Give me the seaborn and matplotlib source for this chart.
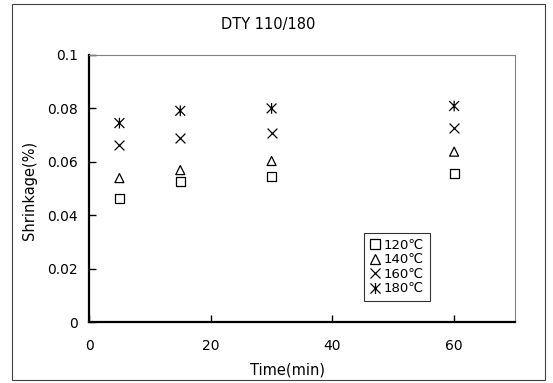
"""
Shrinkage vs time for DTY 110/180 at four temperatures.
"""

import matplotlib
matplotlib.use("Agg")
import matplotlib.pyplot as plt
from matplotlib.path import Path
from matplotlib.lines import Line2D
from matplotlib.patches import Rectangle
import seaborn as sns
import pandas as pd

TIME = [5, 15, 30, 60]
SHRINK_120 = [0.0464, 0.0528, 0.0544, 0.0557]
SHRINK_140 = [0.0539, 0.0569, 0.0603, 0.0638]
SHRINK_160 = [0.0663, 0.0688, 0.0709, 0.0725]
SHRINK_180 = [0.0745, 0.0791, 0.0800, 0.0809]
LABELS = ["120\u2103", "140\u2103", "160\u2103", "180\u2103"]

STAR = Path(
    [(-1, -1), (1, 1), (-1, 1), (1, -1), (0, -1.1), (0, 1.1)],
    [Path.MOVETO, Path.LINETO, Path.MOVETO, Path.LINETO, Path.MOVETO, Path.LINETO],
)
MARKERS = ["s", "^", "x", STAR]
SIZES = [42, 42, 50, 60]


def main():
    sns.set_style("white")
    plt.rcParams["font.family"] = ["DejaVu Sans"]
    plt.rcParams["text.color"] = "black"

    fig = plt.figure(figsize=(5.53, 3.83), dpi=100)
    ax = fig.add_axes([89 / 553, 61 / 383, 426 / 553, 267 / 383])

    series = [SHRINK_120, SHRINK_140, SHRINK_160, SHRINK_180]
    handles = []
    for vals, lab, mk, sz in zip(series, LABELS, MARKERS, SIZES):
        df = pd.DataFrame({"t": TIME, "v": vals})
        if mk == "x":
            sns.scatterplot(data=df, x="t", y="v", ax=ax, marker=mk, s=sz,
                            color="black", linewidths=0.9)
        else:
            sns.scatterplot(data=df, x="t", y="v", ax=ax, marker=mk, s=sz,
                            facecolors="none", edgecolors="black", linewidths=0.9)
        handles.append(Line2D([], [], linestyle="none", marker=mk,
                              markersize=8 if mk is STAR else 7.5,
                              markerfacecolor="none", markeredgecolor="black",
                              markeredgewidth=0.9, label=lab))

    ax.set_xlim(0, 70)
    ax.set_ylim(0, 0.1)
    ax.set_xticks([0, 20, 40, 60])
    ax.set_yticks([0, 0.02, 0.04, 0.06, 0.08, 0.1])
    ax.set_yticklabels(["0", "0.02", "0.04", "0.06", "0.08", "0.1"])
    ax.tick_params(axis="both", direction="in", length=5, width=1, labelsize=10,
                   colors="black", left=True, bottom=True)
    ax.tick_params(axis="x", pad=12)
    ax.tick_params(axis="y", pad=8)
    ax.set_xlabel("")
    ax.set_ylabel("")

    for side in ("left", "bottom"):
        ax.spines[side].set_color("black")
        ax.spines[side].set_linewidth(1.6)
    for side in ("top", "right"):
        ax.spines[side].set_color("#808080")
        ax.spines[side].set_linewidth(0.8)

    leg = ax.legend(handles=handles, loc="lower left", bbox_to_anchor=(0.646, 0.08),
                    borderaxespad=0, fontsize=9.5, handlelength=0.8,
                    handletextpad=0.3, labelspacing=0.12, borderpad=0.4,
                    frameon=True, fancybox=False)
    leg.get_frame().set_edgecolor("black")
    leg.get_frame().set_linewidth(0.8)
    for t in leg.get_texts():
        t.set_color("black")

    fig.text(268 / 553, 1 - 25 / 383, "DTY 110/180", ha="center", va="center",
             fontsize=10.5, color="black")
    fig.text(287 / 553, 1 - 370 / 383, "Time(min)", ha="center", va="center",
             fontsize=10.5, color="black")
    fig.text(30 / 553, 1 - 190 / 383, "Shrinkage(%)", ha="center", va="center",
             rotation=90, fontsize=10.5, color="black")

    fig.patches.append(Rectangle((12 / 553, 3 / 383), 533 / 553, 376 / 383,
                                 transform=fig.transFigure, fill=False,
                                 edgecolor="#404040", linewidth=0.8))

    fig.savefig("out.png", dpi=100)
    plt.close(fig)


if __name__ == "__main__":
    main()
